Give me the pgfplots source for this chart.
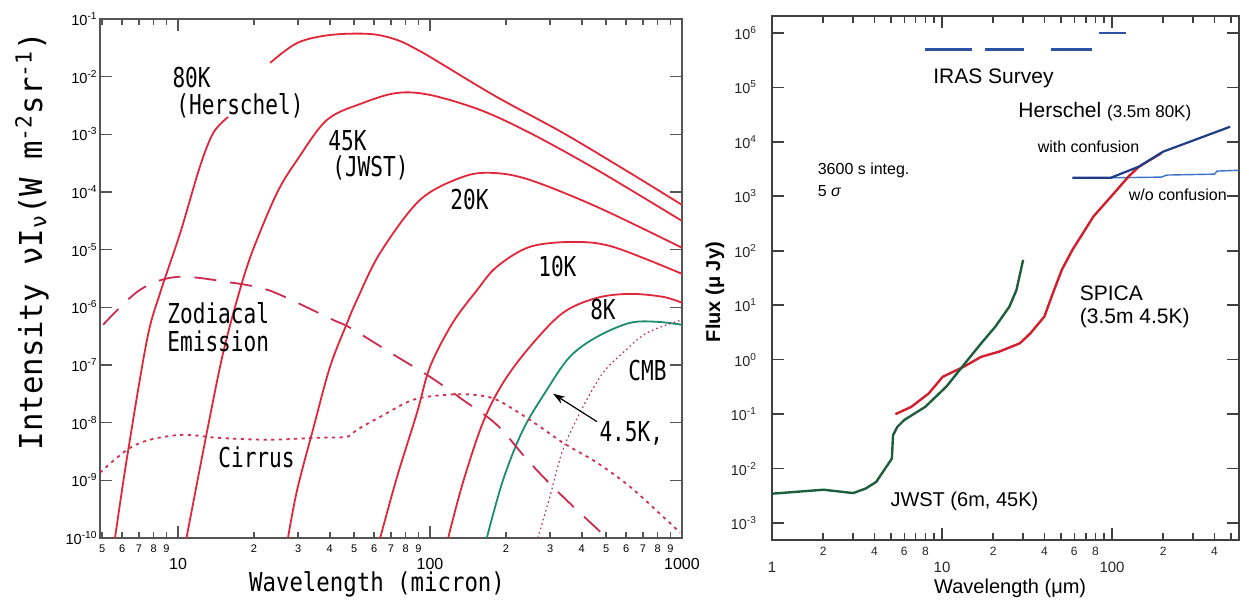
\documentclass[border=0pt]{standalone}
\usepackage{fontspec}
\setmainfont{Liberation Sans}
\newfontfamily\gothic{DejaVu Sans Mono}
\usepackage{graphicx}
\usepackage{pgfplots}
\pgfplotsset{compat=1.18}
\usetikzlibrary{arrows.meta}

\definecolor{bbred}{HTML}{E2263A}
\definecolor{zodired}{HTML}{CC2A4E}
\definecolor{cirred}{HTML}{D0304E}
\definecolor{cmbpurple}{HTML}{B0306A}
\definecolor{bbgreen}{HTML}{1B8E6E}
\definecolor{axgray}{HTML}{555555}
\definecolor{irasblue}{HTML}{2B52A3}
\definecolor{hersblue}{HTML}{1F3C88}
\definecolor{woblue}{HTML}{3F73C8}
\definecolor{spicared}{HTML}{D21F2E}
\definecolor{jwstgreen}{HTML}{1E5E3E}

% narrow gothic-like lettering of the left panel
\newcommand{\gl}[1]{{\gothic\fontsize{13.7}{14}\selectfont\scalebox{0.77}[1]{#1}}}
% tick label helpers (strut pushes the label down)
\newcommand{\lmaj}[1]{{\fontsize{8}{8}\selectfont\rule{0pt}{14.4pt}#1}}
\newcommand{\lmin}[1]{{\fontsize{5.5}{6}\selectfont\rule{0pt}{6pt}#1}}
\newcommand{\rmaj}[1]{{\fontsize{7.5}{8}\selectfont\rule{0pt}{15pt}#1}}
\newcommand{\rmin}[1]{{\fontsize{6}{6}\selectfont\rule{0pt}{6.6pt}#1}}

\begin{document}
\begin{tikzpicture}
\path[use as bounding box] (0,0) rectangle (624.5pt,301.5pt);

% ---------------- left panel: sky background ----------------
\begin{axis}[
  at={(50pt,32.5pt)}, anchor=south west,
  scale only axis, width=291pt, height=259.5pt,
  xmode=log, ymode=log,
  xmin=4.9, xmax=1000, ymin=1e-10, ymax=1e-1,
  axis line style={draw=axgray, line width=1.1pt},
  tick style={draw=axgray, line width=0.8pt},
  tick align=inside, xtick pos=both, ytick pos=both,
  major tick length=6pt,
  xminorticks=false, yminorticks=false,
  xtick={10,100,1000},
  xticklabels={\lmaj{10},\lmaj{100},\lmaj{1000}},
  xticklabel style={anchor=north, inner sep=1pt},
  extra x ticks={5,6,7,8,9,20,30,40,50,60,70,80,90,200,300,400,500,600,700,800,900},
  extra x tick labels={\lmin5,\lmin6,\lmin7,\lmin8,\lmin9,\lmin2,\lmin3,\lmin4,\lmin5,\lmin6,\lmin7,\lmin8,\lmin9,\lmin2,\lmin3,\lmin4,\lmin5,\lmin6,\lmin7,\lmin8,\lmin9},
  extra x tick style={major tick length=3pt},
  ytick={1e-10,1e-9,1e-8,1e-7,1e-6,1e-5,1e-4,1e-3,1e-2,1e-1},
  yticklabels={10\textsuperscript{-10},10\textsuperscript{-9},10\textsuperscript{-8},10\textsuperscript{-7},10\textsuperscript{-6},10\textsuperscript{-5},10\textsuperscript{-4},10\textsuperscript{-3},10\textsuperscript{-2},10\textsuperscript{-1}},
  yticklabel style={font=\fontsize{7.3}{8}\selectfont, inner sep=1pt},
  xlabel={{\gothic\fontsize{13}{14}\selectfont\scalebox{0.86}[1]{Wavelength (micron)}}},
  xlabel style={at={(axis description cs:0.476,-0.104)}, anchor=base},
  ylabel={{\gothic\fontsize{15.8}{16}\selectfont\scalebox{0.97}[1]{Intensity νI\textsubscript{ν}(W m\textsuperscript{-2}sr\textsuperscript{-1})}}},
  ylabel style={at={(axis description cs:-0.117,0.572)}, anchor=center},
  every axis plot/.append style={line width=0.9pt, smooth, tension=0.55},
]
% 80K (Herschel), drawn in two pieces around its label
\addplot[bbred] coordinates {
  (5.62,1.0e-10) (6.28,2.56e-9) (7.53,2.74e-7) (8.49,1.78e-6) (10.2,1.95e-5)
  (12.2,2.72e-4) (13.8,1.06e-3) (15.8,2.0e-3)
};
\addplot[bbred] coordinates {
  (23.2,1.73e-2) (29.7,3.84e-2) (40.1,5.28e-2) (57.8,5.5e-2) (74.0,4.33e-2)
  (91,2.79e-2) (109.6,1.73e-2) (184,4.45e-3) (337,1.06e-3) (622,2.14e-4) (1000,5.97e-5)
};
% 45K (JWST)
\addplot[bbred] coordinates {
  (10.8,1e-10) (13.0,6.68e-9) (15.1,1.63e-7) (17.6,2.01e-6) (19.9,1.03e-5)
  (24.7,9.64e-5) (29.7,3.6e-4) (39.0,1.78e-3) (54.2,3.5e-3) (74.0,5.22e-3)
  (100,4.82e-3) (158,2.65e-3) (249,1.06e-3) (460,2.42e-4) (1000,3.15e-5)
};
% 20K
\addplot[bbred] coordinates {
  (27.3,1e-10) (29.7,6.87e-10) (34.3,7.53e-9) (40.1,9.31e-8) (46.9,5.38e-7)
  (51.3,1.35e-6) (63.4,8.81e-6) (91.3,7.3e-5) (135,1.83e-4) (178,2.14e-4)
  (249,1.62e-4) (460,5.52e-5) (1000,1.08e-5)
};
% 10K
\addplot[bbred] coordinates {
  (63.4,1e-10) (74.0,1.15e-9) (88.8,1.49e-8) (100,9.31e-8) (123,5.38e-7)
  (154,2.01e-6) (184,5.04e-6) (249,1.12e-5) (369,1.36e-5) (532,1.12e-5)
  (1000,3.81e-6)
};
% 8K
\addplot[bbred] coordinates {
  (118,1e-10) (135,9.08e-10) (162,9.95e-9) (195,4.92e-8) (249,2.07e-7)
  (337,8.04e-7) (460,1.46e-6) (622,1.71e-6) (841,1.52e-6) (1000,1.2e-6)
};
% 4.5K
\addplot[bbgreen] coordinates {
  (168,1e-10) (195,1.02e-9) (234,7.53e-9) (291,3.72e-8) (359,1.39e-7)
  (460,3.08e-7) (622,5.38e-7) (796,5.61e-7) (1000,4.98e-7)
};
% CMB
\addplot[cmbpurple, line width=0.6pt, dash pattern=on 0.8pt off 1.5pt] coordinates {
  (268,1e-10) (299,5.2e-10) (337,3.39e-9) (405,1.89e-8) (486,7.33e-8)
  (583,1.63e-7) (726,3.61e-7) (1000,6.07e-7)
};
% zodiacal emission
\addplot[zodired, dash pattern=on 11pt off 7pt] coordinates {
  (5.04,4.98e-7) (7.06,2.01e-6) (10,3.38e-6) (16.5,2.66e-6) (21.1,2.18e-6)
  (25.4,1.65e-6) (41.2,6.07e-7) (48.2,4.42e-7) (74.0,1.39e-7) (100,6.24e-8)
  (135,2.49e-8) (184,9.2e-9) (249,2.02e-9) (337,5.2e-10) (504,1e-10)
};
% cirrus
\addplot[cirred, dash pattern=on 1.6pt off 2.2pt] coordinates {
  (4.9,1.36e-9) (6.28,3.39e-9) (7.74,5.06e-9) (10.5,6.17e-9) (14.3,5.47e-9)
  (22.6,5.06e-9) (35.6,5.47e-9) (46.9,5.7e-9) (51.3,7.53e-9) (63.4,1.26e-8)
  (85.7,2.49e-8) (117,3.05e-8) (148,3.05e-8) (184,2.49e-8) (249,1.12e-8)
  (337,4.49e-9) (460,2.02e-9) (622,7.75e-10) (841,2.34e-10) (982,1.24e-10)
};
\draw[-{Stealth[length=6pt,width=4pt]}, line width=0.6pt] (axis cs:460,1.04e-8) -- (axis cs:308,3.17e-8);
\node[anchor=west, inner sep=0pt] at (axis cs:9.47,9.5e-3) {\gl{80K}};
\node[anchor=west, inner sep=0pt] at (axis cs:9.82,3.1e-3) {\gl{(Herschel)}};
\node[anchor=west, inner sep=0pt] at (axis cs:39.4,7.69e-4) {\gl{45K}};
\node[anchor=west, inner sep=0pt] at (axis cs:40.8,2.62e-4) {\gl{(JWST)}};
\node[anchor=west, inner sep=0pt] at (axis cs:120,7.3e-5) {\gl{20K}};
\node[anchor=west, inner sep=0pt] at (axis cs:268,5.04e-6) {\gl{10K}};
\node[anchor=west, inner sep=0pt] at (axis cs:431,9.06e-7) {\gl{8K}};
\node[anchor=west, inner sep=0pt] at (axis cs:611,7.94e-8) {\gl{CMB}};
\node[anchor=west, inner sep=0pt] at (axis cs:469,6.43e-9) {\gl{4.5K,}};
\node[anchor=west, inner sep=0pt] at (axis cs:9.04,8.04e-7) {\gl{Zodiacal}};
\node[anchor=west, inner sep=0pt] at (axis cs:9.04,2.62e-7) {\gl{Emission}};
\node[anchor=west, inner sep=0pt] at (axis cs:14.4,2.47e-9) {\gl{Cirrus}};
\end{axis}

% ---------------- right panel: sensitivities ----------------
\begin{axis}[
  at={(386pt,31.5pt)}, anchor=south west,
  scale only axis, width=233.5pt, height=262pt,
  xmode=log, ymode=log,
  xmin=1, xmax=558, ymin=4.9e-4, ymax=2.04e6,
  axis line style={draw=black!75, line width=1.1pt},
  tick style={draw=black!75, line width=0.8pt},
  tick align=inside, xtick pos=both, ytick pos=both,
  major tick length=6pt,
  xminorticks=false, yminorticks=false,
  xtick={1,10,100},
  xticklabels={\rmaj{1},\rmaj{10},\rmaj{100}},
  xticklabel style={anchor=north, inner sep=1pt, text=black!85},
  extra x ticks={2,3,4,5,6,7,8,9,20,30,40,50,60,70,80,90,200,300,400,500},
  extra x tick labels={\rmin2,{},\rmin4,{},\rmin6,{},\rmin8,{},\rmin2,{},\rmin4,{},\rmin6,{},\rmin8,{},\rmin2,{},\rmin4,{}},
  extra x tick style={major tick length=3.5pt},
  ytick={1e-3,1e-2,1e-1,1,10,100,1e3,1e4,1e5,1e6},
  yticklabels={10\textsuperscript{-3},10\textsuperscript{-2},10\textsuperscript{-1},10\textsuperscript{0},10\textsuperscript{1},10\textsuperscript{2},10\textsuperscript{3},10\textsuperscript{4},10\textsuperscript{5},10\textsuperscript{6}},
  yticklabel style={font=\fontsize{7.2}{8}\selectfont, xshift=-4pt, text=black!85},
  xlabel={\fontsize{10}{12}\selectfont Wavelength (μm)},
  xlabel style={at={(axis description cs:0.51,-0.102)}, anchor=base},
  ylabel={\fontsize{10}{12}\selectfont\bfseries Flux (μ Jy)},
  ylabel style={at={(axis description cs:-0.122,0.473)}, anchor=center},
]
% IRAS survey
\addplot[irasblue, line width=1.3pt] coordinates {(7.96,4.95e5) (15.1,4.95e5)};
\addplot[irasblue, line width=1.3pt] coordinates {(17.8,4.95e5) (30.4,4.95e5)};
\addplot[irasblue, line width=1.3pt] coordinates {(44,4.95e5) (75.9,4.95e5)};
\addplot[irasblue, line width=1.3pt] coordinates {(83.5,1e6) (121,1e6)};
% Herschel w/o confusion
\addplot[woblue, line width=0.7pt] coordinates {
  (98,2180) (195,2250) (210,2450) (400,2550) (415,2900) (558,3000)
};
% SPICA
\addplot[spicared, line width=1.2pt] coordinates {
  (5.32,0.1) (6.59,0.136) (8.35,0.24) (10.1,0.486) (13.4,0.74) (17,1.13)
  (21.6,1.4) (28.7,2.0) (33.1,3.05) (40,6.2) (45,17) (50.7,45) (58.5,104)
  (77.8,427) (103,1150) (125,2300) (144,3500) (195,6200)
};
% Herschel with confusion
\addplot[hersblue, line width=1.1pt] coordinates {
  (58.5,2180) (98,2180) (144,3500) (200,6600) (495,18900)
};
% JWST
\addplot[jwstgreen, line width=1.2pt] coordinates {
  (1,3.47e-3) (2.01,4.1e-3) (3.0,3.56e-3) (3.55,4.3e-3) (4.1,5.7e-3)
  (5.07,0.0153) (5.15,0.041) (5.45,0.058) (5.99,0.078) (7.96,0.136)
  (10.6,0.32) (13.4,0.80) (17,2.0) (20.6,4.05) (24.9,9.4) (27.4,19) (30,68)
};
\node[anchor=west, inner sep=0pt, font=\fontsize{10.5}{12}\selectfont] at (axis cs:8.84,1.46e5) {IRAS Survey};
\node[anchor=west, inner sep=0pt] at (axis cs:28,3.56e4) {\fontsize{10.5}{12}\selectfont Herschel \fontsize{8.5}{10}\selectfont(3.5m 80K)};
\node[anchor=west, inner sep=0pt, font=\fontsize{8}{10}\selectfont] at (axis cs:36.4,8150) {with confusion};
\node[anchor=west, inner sep=0pt, font=\fontsize{8}{10}\selectfont] at (axis cs:125,1060) {w/o confusion};
\node[anchor=west, inner sep=0pt, font=\fontsize{8}{10}\selectfont] at (axis cs:1.85,3040) {3600 s integ.};
\node[anchor=west, inner sep=0pt, font=\fontsize{8}{10}\selectfont] at (axis cs:1.85,1220) {5 \textit{σ}};
\node[anchor=west, inner sep=0pt, font=\fontsize{10.5}{12}\selectfont] at (axis cs:64.3,16.6) {SPICA};
\node[anchor=west, inner sep=0pt, font=\fontsize{10.5}{12}\selectfont] at (axis cs:64.3,5.77) {(3.5m 4.5K)};
\node[anchor=west, inner sep=0pt, font=\fontsize{10}{12}\selectfont] at (axis cs:4.95,2.54e-3) {JWST (6m, 45K)};
\end{axis}
\end{tikzpicture}
\end{document}
